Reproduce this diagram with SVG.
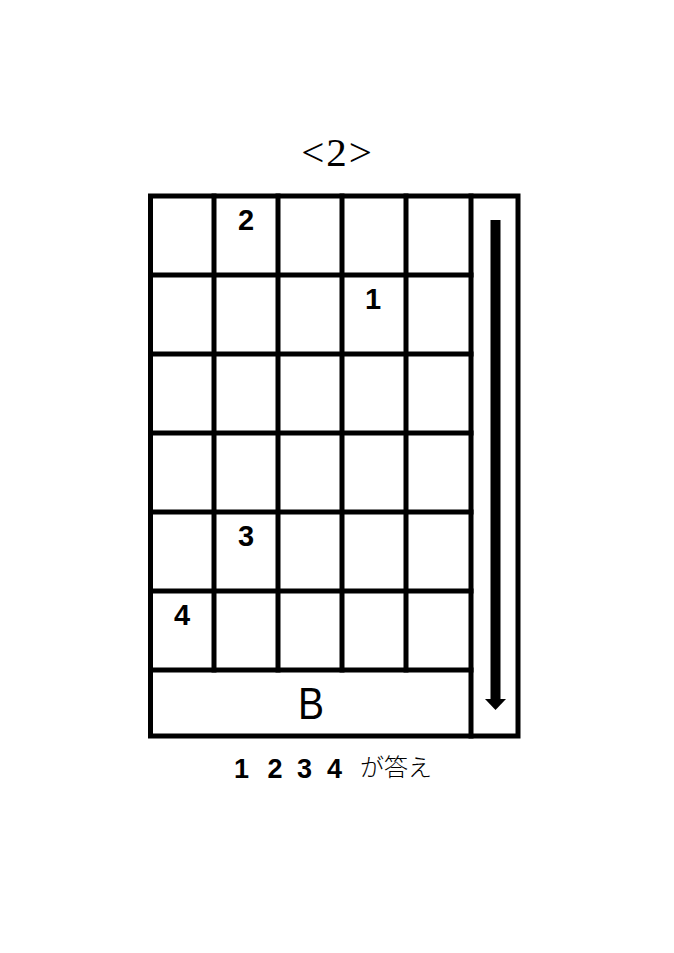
<svg xmlns="http://www.w3.org/2000/svg" width="674" height="953" viewBox="0 0 674 953">
<style>
.ln{stroke:#000;stroke-width:5;fill:none;stroke-linecap:square}
.num{font-family:"Liberation Sans",Arial,sans-serif;font-weight:bold;font-size:29px;fill:#000;text-anchor:middle}
.ans{font-family:"Liberation Sans",Arial,sans-serif;font-weight:bold;font-size:27px;fill:#000;text-anchor:middle}
.ttl{font-family:"Liberation Serif","DejaVu Serif","Times New Roman",serif;font-size:41px;fill:#000;text-anchor:middle}
</style>
<rect width="674" height="953" fill="#fff"/>
<text id="title" class="ttl" x="337.5" y="166" letter-spacing="2">&lt;2&gt;</text>
<g id="grid">
<rect class="ln" x="150.5" y="196" width="367.5" height="540"/>
<line class="ln" x1="471" y1="196" x2="471" y2="736"/>
<line class="ln" x1="214" y1="196" x2="214" y2="670"/>
<line class="ln" x1="278" y1="196" x2="278" y2="670"/>
<line class="ln" x1="342" y1="196" x2="342" y2="670"/>
<line class="ln" x1="406" y1="196" x2="406" y2="670"/>
<line class="ln" x1="150.5" y1="275" x2="471" y2="275"/>
<line class="ln" x1="150.5" y1="354" x2="471" y2="354"/>
<line class="ln" x1="150.5" y1="433" x2="471" y2="433"/>
<line class="ln" x1="150.5" y1="512" x2="471" y2="512"/>
<line class="ln" x1="150.5" y1="591" x2="471" y2="591"/>
<line class="ln" x1="150.5" y1="670" x2="471" y2="670"/>
</g>
<g id="cell-2"><text class="num" x="246" y="229.5">2</text></g>
<g id="cell-1"><text class="num" x="373" y="308.5">1</text></g>
<g id="cell-3"><text class="num" x="246" y="546">3</text></g>
<g id="cell-4"><text class="num" x="182" y="624.5">4</text></g>
<g id="cell-B"><text x="311" y="719" font-family="'Liberation Sans',Arial,sans-serif" font-size="44" text-anchor="middle" textLength="26" lengthAdjust="spacingAndGlyphs">B</text></g>
<g id="connectors">
<rect x="490.5" y="220" width="10" height="481" fill="#000"/>
<polygon points="485,699 506,699 495.5,710" fill="#000"/>
</g>
<g id="answer">
<text class="ans" x="241.5" y="777.5">1</text>
<text class="ans" x="275" y="777.5">2</text>
<text class="ans" x="304.5" y="777.5">3</text>
<text class="ans" x="334.5" y="777.5">4</text>
<text x="360" y="776" font-family="'Noto Sans CJK JP',sans-serif" font-weight="300" font-size="24">が答え</text>
</g>
</svg>
